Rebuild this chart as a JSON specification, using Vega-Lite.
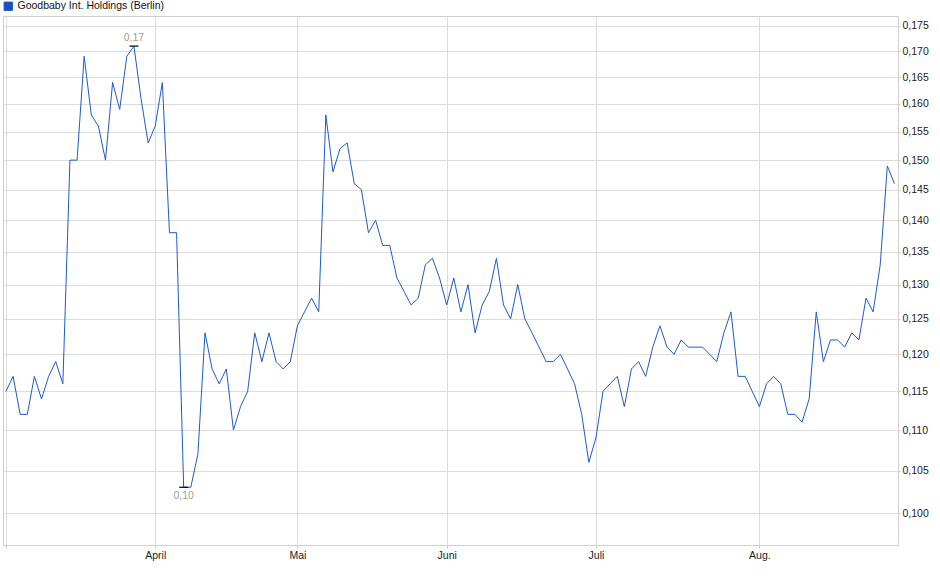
{
  "$schema": "https://vega.github.io/schema/vega-lite/v6.json",
  "width": 895,
  "height": 529,
  "autosize": {"type": "none"},
  "padding": {"left": 3, "top": 16, "right": 42, "bottom": 34},
  "background": "white",
  "data": {
    "values": [
      {"i": 0, "kurs": 0.115}, {"i": 1, "kurs": 0.117}, {"i": 2, "kurs": 0.112}, {"i": 3, "kurs": 0.112},
      {"i": 4, "kurs": 0.117}, {"i": 5, "kurs": 0.114}, {"i": 6, "kurs": 0.117}, {"i": 7, "kurs": 0.119},
      {"i": 8, "kurs": 0.116}, {"i": 9, "kurs": 0.150}, {"i": 10, "kurs": 0.150}, {"i": 11, "kurs": 0.169},
      {"i": 12, "kurs": 0.158}, {"i": 13, "kurs": 0.156}, {"i": 14, "kurs": 0.150}, {"i": 15, "kurs": 0.164},
      {"i": 16, "kurs": 0.159}, {"i": 17, "kurs": 0.169}, {"i": 18, "kurs": 0.171}, {"i": 19, "kurs": 0.161},
      {"i": 20, "kurs": 0.153}, {"i": 21, "kurs": 0.156}, {"i": 22, "kurs": 0.164}, {"i": 23, "kurs": 0.138},
      {"i": 24, "kurs": 0.138}, {"i": 25, "kurs": 0.103}, {"i": 26, "kurs": 0.103}, {"i": 27, "kurs": 0.107},
      {"i": 28, "kurs": 0.123}, {"i": 29, "kurs": 0.118}, {"i": 30, "kurs": 0.116}, {"i": 31, "kurs": 0.118},
      {"i": 32, "kurs": 0.110}, {"i": 33, "kurs": 0.113}, {"i": 34, "kurs": 0.115}, {"i": 35, "kurs": 0.123},
      {"i": 36, "kurs": 0.119}, {"i": 37, "kurs": 0.123}, {"i": 38, "kurs": 0.119}, {"i": 39, "kurs": 0.118},
      {"i": 40, "kurs": 0.119}, {"i": 41, "kurs": 0.124}, {"i": 42, "kurs": 0.126}, {"i": 43, "kurs": 0.128},
      {"i": 44, "kurs": 0.126}, {"i": 45, "kurs": 0.158}, {"i": 46, "kurs": 0.148}, {"i": 47, "kurs": 0.152},
      {"i": 48, "kurs": 0.153}, {"i": 49, "kurs": 0.146}, {"i": 50, "kurs": 0.145}, {"i": 51, "kurs": 0.138},
      {"i": 52, "kurs": 0.140}, {"i": 53, "kurs": 0.136}, {"i": 54, "kurs": 0.136}, {"i": 55, "kurs": 0.131},
      {"i": 56, "kurs": 0.129}, {"i": 57, "kurs": 0.127}, {"i": 58, "kurs": 0.128}, {"i": 59, "kurs": 0.133},
      {"i": 60, "kurs": 0.134}, {"i": 61, "kurs": 0.131}, {"i": 62, "kurs": 0.127}, {"i": 63, "kurs": 0.131},
      {"i": 64, "kurs": 0.126}, {"i": 65, "kurs": 0.130}, {"i": 66, "kurs": 0.123}, {"i": 67, "kurs": 0.127},
      {"i": 68, "kurs": 0.129}, {"i": 69, "kurs": 0.134}, {"i": 70, "kurs": 0.127}, {"i": 71, "kurs": 0.125},
      {"i": 72, "kurs": 0.130}, {"i": 73, "kurs": 0.125}, {"i": 74, "kurs": 0.123}, {"i": 75, "kurs": 0.121},
      {"i": 76, "kurs": 0.119}, {"i": 77, "kurs": 0.119}, {"i": 78, "kurs": 0.120}, {"i": 79, "kurs": 0.118},
      {"i": 80, "kurs": 0.116}, {"i": 81, "kurs": 0.112}, {"i": 82, "kurs": 0.106}, {"i": 83, "kurs": 0.109},
      {"i": 84, "kurs": 0.115}, {"i": 85, "kurs": 0.116}, {"i": 86, "kurs": 0.117}, {"i": 87, "kurs": 0.113},
      {"i": 88, "kurs": 0.118}, {"i": 89, "kurs": 0.119}, {"i": 90, "kurs": 0.117}, {"i": 91, "kurs": 0.121},
      {"i": 92, "kurs": 0.124}, {"i": 93, "kurs": 0.121}, {"i": 94, "kurs": 0.120}, {"i": 95, "kurs": 0.122},
      {"i": 96, "kurs": 0.121}, {"i": 97, "kurs": 0.121}, {"i": 98, "kurs": 0.121}, {"i": 99, "kurs": 0.120},
      {"i": 100, "kurs": 0.119}, {"i": 101, "kurs": 0.123}, {"i": 102, "kurs": 0.126}, {"i": 103, "kurs": 0.117},
      {"i": 104, "kurs": 0.117}, {"i": 105, "kurs": 0.115}, {"i": 106, "kurs": 0.113}, {"i": 107, "kurs": 0.116},
      {"i": 108, "kurs": 0.117}, {"i": 109, "kurs": 0.116}, {"i": 110, "kurs": 0.112}, {"i": 111, "kurs": 0.112},
      {"i": 112, "kurs": 0.111}, {"i": 113, "kurs": 0.114}, {"i": 114, "kurs": 0.126}, {"i": 115, "kurs": 0.119},
      {"i": 116, "kurs": 0.122}, {"i": 117, "kurs": 0.122}, {"i": 118, "kurs": 0.121}, {"i": 119, "kurs": 0.123},
      {"i": 120, "kurs": 0.122}, {"i": 121, "kurs": 0.128}, {"i": 122, "kurs": 0.126}, {"i": 123, "kurs": 0.133},
      {"i": 124, "kurs": 0.149}, {"i": 125, "kurs": 0.146}
    ]
  },
  "encoding": {
    "x": {
      "field": "i",
      "type": "quantitative",
      "scale": {"domain": [-0.42, 125.5], "nice": false, "zero": false},
      "axis": {
        "title": null,
        "values": [0, 21, 41, 62, 83, 106],
        "labelExpr": "datum.value == 21 ? 'April' : datum.value == 41 ? 'Mai' : datum.value == 62 ? 'Juni' : datum.value == 83 ? 'Juli' : datum.value == 106 ? 'Aug.' : ''",
        "grid": true,
        "gridColor": "#dcdcdc",
        "domainColor": "#d0d0d0",
        "tickColor": "#c8c8c8",
        "tickSize": 3,
        "labelPadding": 2,
        "labelFlush": false,
        "labelOverlap": false
      }
    },
    "y": {
      "field": "kurs",
      "type": "quantitative",
      "scale": {"type": "log", "domain": [0.09639, 0.17702], "nice": false, "zero": false},
      "axis": {
        "title": null,
        "orient": "right",
        "values": [0.1, 0.105, 0.11, 0.115, 0.12, 0.125, 0.13, 0.135, 0.14, 0.145, 0.15, 0.155, 0.16, 0.165, 0.17, 0.175],
        "labelExpr": "replace(format(datum.value, '.3f'), '.', ',')",
        "grid": true,
        "gridColor": "#dcdcdc",
        "domainColor": "#d0d0d0",
        "tickColor": "#c8c8c8",
        "tickSize": 2,
        "labelPadding": 2,
        "labelOverlap": false
      }
    }
  },
  "layer": [
    {
      "mark": {"type": "line", "strokeWidth": 1, "interpolate": "linear"},
      "encoding": {
        "color": {
          "datum": "Goodbaby Int. Holdings (Berlin)",
          "scale": {"range": ["#1f5ac6"]},
          "legend": {
            "title": null,
            "orient": "none",
            "legendX": 0,
            "legendY": -15,
            "symbolType": "square",
            "symbolSize": 70,
            "symbolFillColor": "#1c4fb4",
            "symbolStrokeColor": "#1a2f66",
            "symbolStrokeWidth": 1,
            "labelFontSize": 10.5,
            "labelColor": "#111",
            "labelOffset": 4,
            "padding": 0
          }
        }
      }
    },
    {
      "transform": [
        {"joinaggregate": [{"op": "max", "field": "kurs", "as": "maxK"}]},
        {"filter": "datum.kurs == datum.maxK"},
        {"window": [{"op": "row_number", "as": "rn"}], "sort": [{"field": "i"}]},
        {"filter": "datum.rn == 1"},
        {"calculate": "replace(format(datum.kurs, '.2f'), '.', ',')", "as": "lbl"}
      ],
      "layer": [
        {"mark": {"type": "point", "shape": "stroke", "size": 81, "filled": false, "stroke": "black", "strokeWidth": 1.2, "opacity": 1}},
        {"mark": {"type": "text", "baseline": "bottom", "dy": -3, "color": "#a39d96", "fontSize": 10.5}, "encoding": {"text": {"field": "lbl"}}}
      ]
    },
    {
      "transform": [
        {"joinaggregate": [{"op": "min", "field": "kurs", "as": "minK"}]},
        {"filter": "datum.kurs == datum.minK"},
        {"window": [{"op": "row_number", "as": "rn"}], "sort": [{"field": "i"}]},
        {"filter": "datum.rn == 1"},
        {"calculate": "replace(format(datum.kurs, '.2f'), '.', ',')", "as": "lbl"}
      ],
      "layer": [
        {"mark": {"type": "point", "shape": "stroke", "size": 81, "filled": false, "stroke": "black", "strokeWidth": 1.2, "opacity": 1}},
        {"mark": {"type": "text", "baseline": "top", "dy": 4, "color": "#a39d96", "fontSize": 10.5}, "encoding": {"text": {"field": "lbl"}}}
      ]
    }
  ],
  "config": {
    "font": "Liberation Sans",
    "view": {"stroke": "#d0d0d0"},
    "axis": {
      "labelFont": "Liberation Sans",
      "labelFontSize": 10.5,
      "labelColor": "#222"
    },
    "legend": {"labelFont": "Liberation Sans"}
  }
}
